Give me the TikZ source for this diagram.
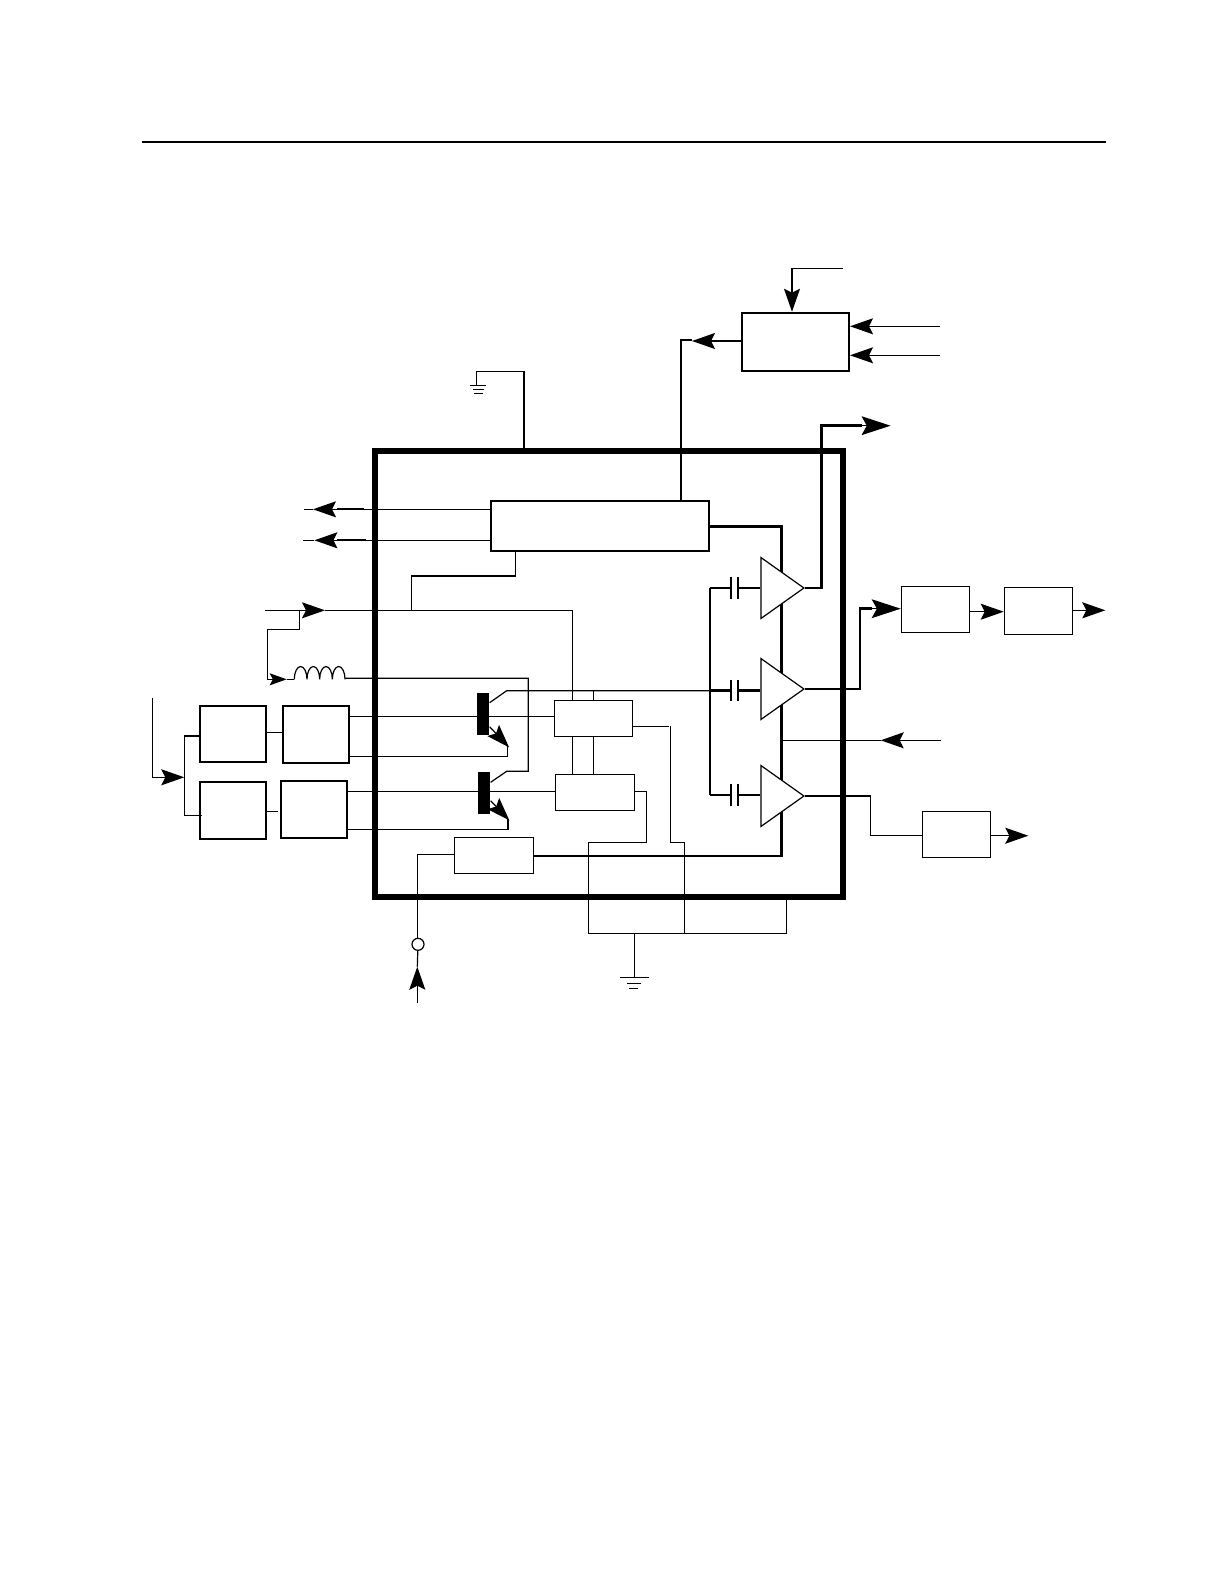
\documentclass[tikz,border=0pt]{standalone}
\usetikzlibrary{arrows.meta,shapes.geometric}
\begin{document}
\begin{tikzpicture}[x=0.5pt, y=-0.5pt, line width=0.6pt,
    main/.style = {draw, rectangle, inner sep=0pt, minimum width=#1*0.5pt},
    tall/.style = {minimum height=#1*0.5pt},
    heavy/.style = {line width=1pt},
    bold/.style = {line width=1.3pt},
    amp/.style = {draw, fill=white, isosceles triangle, isosceles triangle stretches, inner sep=0pt, anchor=lower side, minimum width=61*0.5pt, minimum height=43*0.5pt},
    bar/.style = {fill=black, inner sep=0pt, minimum width=6pt, minimum height=21pt},
    smalltip/.style = {-{Stealth[length=8.5pt, width=6pt, inset=1.6pt]}},
    tip/.style = {-{Stealth[length=11.5pt, width=8pt, inset=2pt]}},
    bigtip/.style = {-{Stealth[length=14.5pt, width=9.4pt, inset=2.6pt]}}]
    \useasboundingbox (0,0) rectangle (1224,1584);
    \coordinate (rule1) at (141.5,142);
    \coordinate (rule2) at (1106,142);
    \draw[line width=1.1pt] (rule1) -- (rule2);

    \node[main=468, tall=446, line width=3pt] (chip) at (609,674) {};
    \node[main=107.4, tall=58.3, heavy] (latch) at (795.3,341.9) {};
    \node[main=218, tall=50.3, heavy] (ctrl) at (600,525.9) {};
    \node[main=66.6, tall=56.3, heavy] (a1) at (233,733.9) {};
    \node[main=66.6, tall=57.6, heavy] (b1) at (316,734.5) {};
    \node[main=66.6, tall=57.3, heavy] (a2) at (233,810.4) {};
    \node[main=66.6, tall=57.6, heavy] (b2) at (314,809.5) {};
    \node[main=78, tall=36] (d1) at (593.3,718.3) {};
    \node[main=79.4, tall=36] (d2) at (595,792.3) {};
    \node[main=79.4, tall=36] (reg) at (494,855.3) {};
    \node[main=68.4, tall=46] (e1) at (935.5,609.3) {};
    \node[main=68.4, tall=47] (f1) at (1038.5,610.8) {};
    \node[main=68.4, tall=46] (g1) at (956.5,834.3) {};
    \node[bar] (q1) at (483,713.8) {};
    \node[bar] (q2) at (484,792.8) {};
    \node[circle, draw, inner sep=0pt, minimum size=6pt] (pin) at (418,944.3) {};

    \coordinate (top) at (842.6,268.3);
    \coordinate (r1) at (940,326.3);
    \coordinate (r2) at (940,355.3);
    \coordinate (l1) at (304,509.3);
    \coordinate (l2) at (302.6,540.3);
    \coordinate (gnd1) at (476.4,385.3);
    \coordinate (gnd2) at (634.3,977.3);
    \coordinate (clk) at (265,610.3);
    \coordinate (ind1) at (294.3,679.3);
    \coordinate (ind2) at (345,678.3);
    \coordinate (in) at (152.3,697.7);
    \coordinate (fork) at (184.3,777.3);
    \coordinate (bus) at (781.7,740.3);
    \coordinate (vin) at (940.7,740.3);
    \coordinate (pinin) at (417.3,1003.3);
    \coordinate (sum) at (684.3,933.3);
    \coordinate (cap1) at (710,588);
    \coordinate (cap2) at (710,690.7);
    \coordinate (cap3) at (710,795);

    % connectors around the latch
    \draw (top) -- (792,268.3) -- (792,291.7);
    \draw[tip] (792,291.7) -- (latch.north -| 792,0);
    \draw (r1) -- (871,326.3);
    \draw[tip] (871,326.3) -- (latch.east |- 0,326.3);
    \draw (r2) -- (871,355.3);
    \draw[tip] (871,355.3) -- (latch.east |- 0,355.3);
    \draw (latch.west |- 0,341) -- (716,341);
    \draw[tip] (716,341) -- (692,341);
    \draw[line width=0.8pt] (692,339.7) -- (681,339.7) -- (ctrl.north -| 681,0);
    \draw (chip.north -| 524,0) -- (524,371.3) -- (476.4,371.3) -- (gnd1);
    \draw (470,385.3) -- (486,385.3);
    \draw (473,389.3) -- (484,389.3);
    \draw (474.3,393.3) -- (483,393.3);

    % control block outputs
    \draw (ctrl.west |- 0,509.3) -- (337,509.3);
    \draw[line width=1pt] (364,509.3) -- (337,509.3);
    \draw[tip] (337,509.3) -- (313,509.3);
    \draw (313,509.3) -- (l1);
    \draw (ctrl.west |- 0,540.3) -- (337,540.3);
    \draw[line width=1pt] (366,540.3) -- (337,540.3);
    \draw[tip] (337,540.3) -- (314.4,540.3);
    \draw (314.4,540.3) -- (l2);
    \draw (ctrl.south -| 515.2,0) -- (515.2,576) -- (411.2,576) -- (411.2,610.3);

    % supply bus, the amplifiers sit on top of it
    \draw[bold] (ctrl.east |- 0,526.3) -- (781.7,526.3) -- (781.7,856) -- (reg.east |- 0,856);
    \draw (vin) -- (902.3,740.3);
    \draw[tip] (902.3,740.3) -- (880.7,740.3);
    \draw (880.7,740.3) -- (bus);
    \node[amp] (amp1) at (760.3,588) {};
    \node[amp] (amp2) at (760.3,689) {};
    \node[amp] (amp3) at (760.3,796) {};

    % coupling capacitors
    \draw[bold] (cap1) -- (cap3);
    \draw[bold] (cap1) -- (731,588);
    \draw[bold] (738,588) -- (amp1.lower side);
    \draw[bold] (731,577.3) -- (731,598.7);
    \draw[bold] (738,577.3) -- (738,598.7);
    \draw[bold] (cap2) -- (731,690.7);
    \draw[bold] (738,690.7) -- (amp2.lower side |- 0,690.7);
    \draw[bold] (731,680) -- (731,701.4);
    \draw[bold] (738,680) -- (738,701.4);
    \draw[bold] (cap3) -- (731,795);
    \draw[bold] (738,795) -- (amp3.lower side |- 0,795);
    \draw[bold] (731,784.3) -- (731,805.7);
    \draw[bold] (738,784.3) -- (738,805.7);

    % amplifier outputs
    \draw[bold] (amp1.apex) -- (821.3,588) -- (821.3,425.7) -- (861.5,425.7);
    \draw[bigtip] (861.5,425.7) -- (890.6,425.7);
    \draw[bold] (amp2.apex) -- (860,689) -- (860,608.7) -- (871.7,608.7);
    \draw[bigtip] (871.7,608.7) -- (e1.west |- 0,608.7);
    \draw (e1.east |- 0,611.7) -- (980,611.7);
    \draw[tip] (980,611.7) -- (f1.west |- 0,611.7);
    \draw (f1.east |- 0,610.3) -- (1082.7,610.3);
    \draw[tip] (1082.7,610.3) -- (1105.3,610.3);
    \draw (amp3.apex) -- (870.3,796) -- (870.3,835.3) -- (g1.west |- 0,835.3);
    \draw (g1.east |- 0,835.7) -- (1006,835.7);
    \draw[tip] (1006,835.7) -- (1028.3,835.7);

    % left side inputs
    \draw (clk) -- (303,610.3);
    \draw[tip] (303,610.3) -- (325,610.3);
    \draw (325,610.3) -- (572.3,610.3) -- (d1.north -| 572.3,0);
    \draw (299.3,610.3) -- (299.3,629.3) -- (267.3,629.3) -- (267.3,679.3) -- (270,679.3);
    \draw[smalltip] (270,679.3) -- (286.7,679.3);
    \draw (286.7,679.3) -- (ind1);
    \draw (ind1) arc[start angle=180, end angle=0, x radius=3.17pt, y radius=6.4pt]
        arc[start angle=180, end angle=0, x radius=3.17pt, y radius=6.4pt]
        arc[start angle=180, end angle=0, x radius=3.17pt, y radius=6.4pt]
        arc[start angle=180, end angle=0, x radius=3.17pt, y radius=6.4pt];
    \draw (ind2) -- (528.3,678.3) -- (528.3,771.3) -- (506.7,771.3) -- (q2.east |- 0,782.3);
    \draw (in) -- (152.3,777.3) -- (161,777.3);
    \draw[tip] (161,777.3) -- (fork);
    \draw (a1.west |- 0,736) -- (184.3,736) -- (184.3,815.3) -- (201.7,815.3);
    \draw (a1.east |- 0,732.3) -- (b1.west |- 0,732.3);
    \draw (a2.east |- 0,811.3) -- (277.7,811.3);

    % transistors
    \draw (b1.east |- 0,716.3) -- (d1.west |- 0,716.3);
    \draw (q1.east |- 0,702.7) -- (506.7,690.7) -- (710,690.7);
    \draw[tip] (q1.east |- 0,726.7) -- (509,747.3);
    \draw (507.3,746) -- (507.3,756.3) -- (b1.east |- 0,756.3);
    \draw (b2.east |- 0,791.5) -- (d2.west |- 0,791.5);
    \draw[tip] (q2.east |- 0,800.7) -- (509.3,820.3);
    \draw (508,819) -- (508,829.3) -- (b2.east |- 0,829.3);

    % bias blocks and ground return
    \draw (d1.north -| 593.3,0) -- (593.3,690.7);
    \draw (d1.south -| 572.3,0) -- (d2.north -| 572.3,0);
    \draw (d1.south -| 593.3,0) -- (d2.north -| 593.3,0);
    \draw (d1.east |- 0,726.3) -- (669,726.3);
    \draw (670.3,726.3) -- (670.3,842.3) -- (684.3,842.3) -- (sum);
    \draw (d2.east |- 0,791.7) -- (646.3,791.7) -- (646.3,842.3) -- (588.7,842.3) -- (588.7,933.3) -- (sum);
    \draw (sum) -- (786.7,933.3) -- (chip.south -| 786.7,0);
    \draw (634.3,933.3) -- (gnd2);
    \draw (620,977.3) -- (648.7,977.3);
    \draw (627,983.7) -- (641,983.7);
    \draw (629.3,988.3) -- (638.3,988.3);
    \draw (reg.west |- 0,854.3) -- (417.3,854.3) -- (pin.north -| 417.3,0);
    \draw (pinin) -- (417.3,987.3);
    \draw[tip] (417.3,987.3) -- (417.3,966.7);
    \draw (417.3,966.7) -- (pin);
\end{tikzpicture}
\end{document}
